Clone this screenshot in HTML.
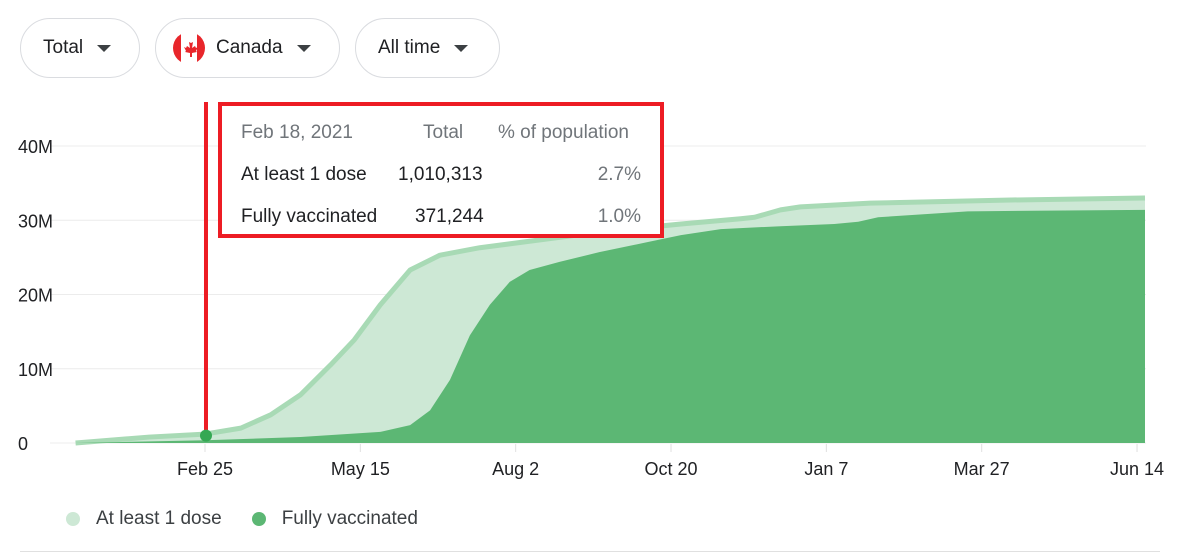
<!DOCTYPE html>
<html><head><meta charset="utf-8"><style>
body{margin:0;width:1185px;height:556px;background:#fff;font-family:"Liberation Sans",Arial,sans-serif;position:relative;overflow:hidden}
.pill{position:absolute;top:18px;height:60px;border:1px solid #dadce0;border-radius:31px;box-sizing:border-box;display:flex;align-items:center;font-size:19px;color:#202124}
.caret{display:inline-block;width:0;height:0;border-left:7px solid transparent;border-right:7px solid transparent;border-top:7px solid #3c4043;margin-left:14px}
#tip{position:absolute;left:218px;top:102px;width:446px;height:136px;box-sizing:border-box;border:4px solid #ed1c24;background:#fff;font-size:19px;color:#202124}
#tip div{position:absolute;white-space:nowrap}
.g{color:#70757a}
</style></head><body>
<div class="pill" style="left:20px;width:120px;padding-left:22px">Total<span class="caret"></span></div>
<div class="pill" style="left:155px;width:185px;padding-left:16px">
<svg width="34" height="34" viewBox="0 0 34 34" style="margin-right:10px"><clipPath id="c"><circle cx="17" cy="17" r="16"/></clipPath><g clip-path="url(#c)"><rect width="34" height="34" fill="#fff"/><rect width="9" height="34" fill="#e8262b"/><rect x="25" width="9" height="34" fill="#e8262b"/><path d="M17 8l2 4 2-1-1 6 3-2 1 2 2-1-2 4 1 1-5 1v4h-2v-4l-5-1 1-1-2-4 2 1 1-2 3 2-1-6 2 1z" fill="#e8262b"/></g></svg>Canada<span class="caret"></span></div>
<div class="pill" style="left:355px;width:145px;padding-left:22px">All time<span class="caret"></span></div>

<svg id="chart" width="1185" height="556" style="position:absolute;left:0;top:0"></svg>

<div id="tip">
<div class="g" style="left:19px;top:16px">Feb 18, 2021</div>
<div class="g" style="left:201px;top:16px">Total</div>
<div class="g" style="left:276px;top:16px">% of population</div>
<div style="left:19px;top:58px">At least 1 dose</div>
<div style="left:176px;top:58px">1,010,313</div>
<div class="g" style="right:19px;top:58px">2.7%</div>
<div style="left:19px;top:100px">Fully vaccinated</div>
<div style="left:193px;top:100px">371,244</div>
<div class="g" style="right:19px;top:100px">1.0%</div>
</div>

<div style="position:absolute;left:66px;top:508px;font-size:19px;color:#3c4043;display:flex;align-items:center">
<span style="width:14px;height:14px;border-radius:50%;background:#cde8d5;display:inline-block;margin-right:16px"></span><span>At least 1 dose</span>
<span style="width:14px;height:14px;border-radius:50%;background:#5cb774;display:inline-block;margin:0 16px 0 30px"></span><span>Fully vaccinated</span>
</div>
<div style="position:absolute;left:20px;top:551px;width:1140px;height:1px;background:#e0e0e0"></div>

<script>
const yTicks=[0,10,20,30,40];
const yTickLabels=["0","10M","20M","30M","40M"];
const xTickDays=[0,78,156,234,312,390,468];
const xTickLabels=["Feb 25","May 15","Aug 2","Oct 20","Jan 7","Mar 27","Jun 14"];
const doseDays=[-65,-28,0,18,33,48,63,75,88,103,118,138,161,198,239,269,276,289,299,334,399,472];
const doseValues=[0,0.8,1.2,2,3.8,6.5,10.5,13.9,18.6,23.3,25.3,26.3,27.1,28.4,29.5,30.2,30.4,31.4,31.8,32.3,32.7,33.0];
const fullDays=[-65,0,48,88,103,113,123,133,143,153,163,178,198,223,239,259,289,316,328,338,383,472];
const fullValues=[0,0.37,0.8,1.5,2.4,4.4,8.5,14.5,18.6,21.7,23.3,24.4,25.7,27.1,28,28.8,29.2,29.5,29.8,30.4,31.2,31.4];
const hoverDay=0.5, hoverValue=1.0;

const svg=document.getElementById('chart');
const NS='http://www.w3.org/2000/svg';
const X=d=>205+d*(940/472);
const Y=v=>443-v*(297/40);
function mk(t,a){const e=document.createElementNS(NS,t);for(const k in a)e.setAttribute(k,a[k]);svg.appendChild(e);return e;}
yTicks.forEach((v,i)=>{
 const l=mk('line',{x1:50,x2:1146,y1:Y(v),y2:Y(v),stroke:'#ececec','stroke-width':1});
 
 
 const t=mk('text',{x:18,y:Y(v)+7,'font-size':18,fill:'#202124','font-family':'Liberation Sans, sans-serif'});
 t.textContent=yTickLabels[i];
 
 
});
function area(days,vals,fill,name){
 let d='M'+X(days[0])+','+Y(0);
 days.forEach((dd,i)=>d+=' L'+X(dd)+','+Y(vals[i]));
 d+=' L'+X(days[days.length-1])+','+Y(0)+'Z';
 const p=mk('path',{d:d,fill:fill});
 
 
}
area(doseDays,doseValues,'#cde8d5','area-at-least-1-dose');
const ln=mk('polyline',{points:doseDays.map((d,i)=>X(d)+','+Y(doseValues[i])).join(' '),fill:'none',stroke:'#a8dab5','stroke-width':5,'stroke-linejoin':'round'});


area(fullDays,fullValues,'#5cb774','area-fully-vaccinated');
xTickDays.forEach((d,i)=>{
 const l=mk('line',{x1:X(d),x2:X(d),y1:444,y2:452,stroke:'#e0e0e0','stroke-width':1});
 
 
 const t=mk('text',{x:X(d),y:475,'font-size':18,fill:'#202124','text-anchor':'middle','font-family':'Liberation Sans, sans-serif'});
 t.textContent=xTickLabels[i];
 
 
});
const vl=mk('line',{x1:X(hoverDay),x2:X(hoverDay),y1:102,y2:441,stroke:'#ed1c24','stroke-width':4});


const dot=mk('circle',{cx:X(hoverDay),cy:Y(hoverValue),r:6,fill:'#34a853'});


</script>
</body></html>
